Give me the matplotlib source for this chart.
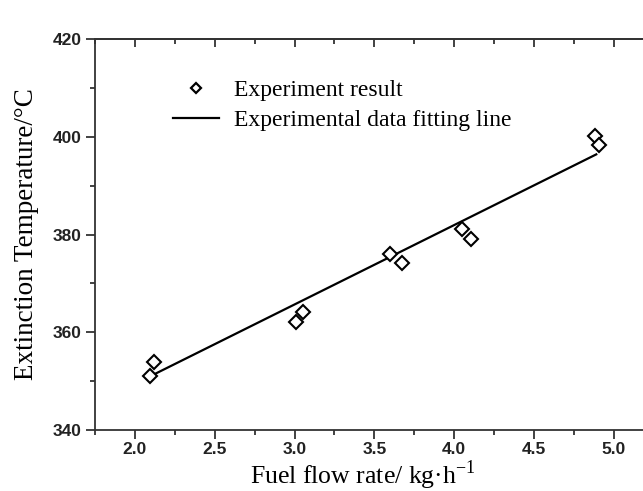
import matplotlib
matplotlib.use("Agg")
import matplotlib.pyplot as plt
from matplotlib.lines import Line2D
from matplotlib.ticker import MultipleLocator

# ── data ──────────────────────────────────────────────────────────────────────
flow_rate = [2.095, 2.117, 3.008, 3.05, 3.60, 3.675, 4.05, 4.105, 4.88, 4.905]
extinction_temp = [351.0, 354.0, 362.0, 364.1, 376.1, 374.1, 381.1, 379.0, 400.2, 398.4]

# fitting line end points
fit_x = [2.09, 4.89]
fit_y = [350.9, 396.4]

SERIF = ["Liberation Serif", "DejaVu Serif"]
SANS = ["Liberation Sans", "DejaVu Sans"]

fig = plt.figure(figsize=(6.43, 4.91), dpi=100)
ax = fig.add_axes([0.1477, 0.1242, 0.869, 0.7963])

ax.plot(fit_x, fit_y, color="black", linewidth=1.6, zorder=2)
ax.plot(flow_rate, extinction_temp, linestyle="none", marker="D", markersize=7.5,
        markerfacecolor="white", markeredgecolor="black", markeredgewidth=1.5, zorder=3)

ax.set_xlim(1.75, 5.25)
ax.set_ylim(340, 420)
ax.xaxis.set_major_locator(MultipleLocator(0.5))
ax.xaxis.set_minor_locator(MultipleLocator(0.25))
ax.yaxis.set_major_locator(MultipleLocator(20))
ax.yaxis.set_minor_locator(MultipleLocator(10))

for s in ax.spines.values():
    s.set_linewidth(1.3)
    s.set_color("#333333")
ax.spines["right"].set_visible(False)

ax.tick_params(axis="x", which="both", direction="out", bottom=True, top=False, color="#333333")
ax.tick_params(axis="y", which="both", direction="out", left=True, right=False, color="#333333")
ax.tick_params(which="major", length=6.5, width=1.3)
ax.tick_params(which="minor", length=3.5, width=1.3)
ax.tick_params(axis="x", pad=2)
ax.tick_params(axis="y", pad=3)

# inward ticks along the top spine
top = ax.secondary_xaxis("top")
top.xaxis.set_major_locator(MultipleLocator(0.5))
top.xaxis.set_minor_locator(MultipleLocator(0.25))
top.tick_params(which="both", direction="in", labeltop=False, color="#333333")
top.tick_params(which="major", length=6, width=1.3)
top.tick_params(which="minor", length=3.5, width=1.3)
top.spines["top"].set_linewidth(1.3)
top.spines["top"].set_color("#333333")

for lab in ax.get_xticklabels() + ax.get_yticklabels():
    lab.set_family(SANS)
    lab.set_fontweight("bold")
    lab.set_fontsize(12.5)
    lab.set_color("#222222")

ax.set_xlabel("Fuel flow rate/ kg·h$^{\\mathregular{-1}}$", family=SERIF, fontsize=18.5)
ax.xaxis.set_label_coords(0.48, -0.072)
ax.set_ylabel("Extinction Temperature/°C", family=SERIF, fontsize=19.5, labelpad=10)

handles = [
    Line2D([], [], linestyle="none", marker="D", markersize=5.5, markerfacecolor="white",
           markeredgecolor="black", markeredgewidth=1.6),
    Line2D([], [], color="black", linewidth=1.6),
]
ax.legend(handles, ["Experiment result", "Experimental data fitting line"],
          loc="upper left", bbox_to_anchor=(0.1226, 0.92), frameon=False,
          prop={"family": SERIF, "size": 17}, handlelength=1.95, handletextpad=0.64,
          labelspacing=0.36, borderaxespad=0)

fig.savefig("out.png", dpi=100)
